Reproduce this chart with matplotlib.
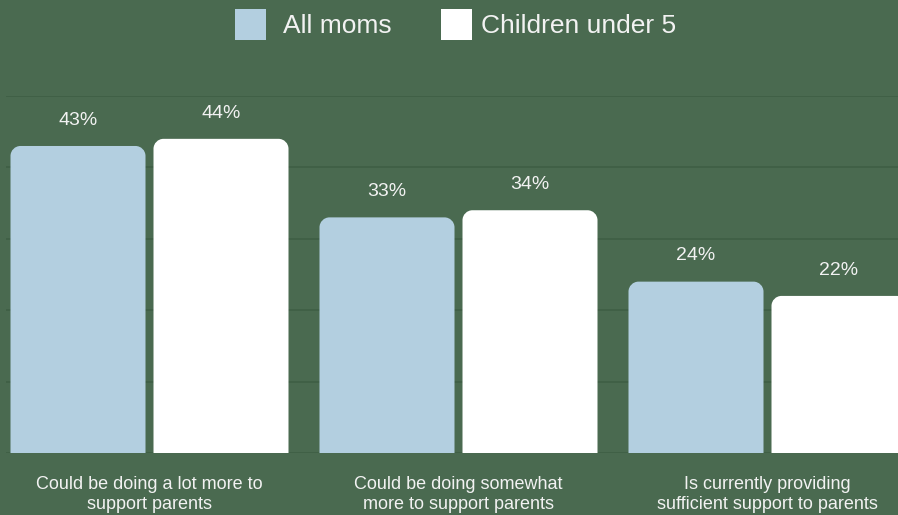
import matplotlib
matplotlib.use("Agg")
import matplotlib.pyplot as plt
import numpy as np
from matplotlib.path import Path
from matplotlib.patches import PathPatch, Rectangle

categories = ["Could be doing a lot more to\nsupport parents",
              "Could be doing somewhat\nmore to support parents",
              "Is currently providing\nsufficient support to parents"]
series_names = ["All moms", "Children under 5"]
all_moms = [43, 33, 24]
children_under5 = [44, 34, 22]
yticks = [0, 10, 20, 30, 40, 50]

BG = "#4a6a50"
GRID = "#405f46"
BLUE = "#b3cfe0"
WHITE = "#ffffff"
TXT = "#f2f2f2"
FONT = ["Liberation Sans", "DejaVu Sans"]
plt.rcParams["font.family"] = FONT

W, H = 898, 515
fig = plt.figure(figsize=(W / 100, H / 100), dpi=100, facecolor=BG)
left_px, right_px, top_px, bot_px = 6, 898, 96, 453
ax = fig.add_axes([left_px / W, 1 - bot_px / H, (right_px - left_px) / W, (bot_px - top_px) / H])
ax.set_facecolor(BG)

unit = 309.0
center0 = 149.5
ax.set_xlim((left_px - center0) / unit, (right_px - center0) / unit)
ax.set_ylim(0, 50)

bw = 135 / unit
off = 71.5 / unit
x = np.arange(len(categories))

def rounded_bar(ax, xc, h, w, color, r_px=10):
    rx = r_px / unit
    ry = r_px * 50 / (bot_px - top_px)
    k = 0.5523
    x0, x1 = xc - w / 2, xc + w / 2
    verts = [(x0, 0), (x0, h - ry),
             (x0, h - ry + k * ry), (x0 + rx - k * rx, h), (x0 + rx, h),
             (x1 - rx, h),
             (x1 - rx + k * rx, h), (x1, h - ry + k * ry), (x1, h - ry),
             (x1, 0), (x0, 0)]
    codes = [Path.MOVETO, Path.LINETO,
             Path.CURVE4, Path.CURVE4, Path.CURVE4,
             Path.LINETO,
             Path.CURVE4, Path.CURVE4, Path.CURVE4,
             Path.LINETO, Path.CLOSEPOLY]
    p = PathPatch(Path(verts, codes), facecolor=color, edgecolor="none", zorder=3)
    ax.add_patch(p)

for vals, sign, col in [(all_moms, -1, BLUE), (children_under5, 1, WHITE)]:
    bars = ax.bar(x + sign * off, vals, width=bw, color=col, alpha=0)
    for b, v in zip(bars, vals):
        xc = b.get_x() + b.get_width() / 2
        rounded_bar(ax, xc, v, bw, col)
        ax.text(xc, v + 3.6, f"{v}%", ha="center", va="center", color=TXT, fontsize=14)

ax.set_yticks(yticks)
ax.yaxis.grid(True, color=GRID, linewidth=1.3, zorder=0)
ax.set_axisbelow(True)
ax.tick_params(axis="y", left=False, labelleft=False)
ax.set_xticks(x)
ax.set_xticklabels(categories, color=TXT, fontsize=13, linespacing=1.2)
ax.tick_params(axis="x", bottom=False, pad=13)
for s in ax.spines.values():
    s.set_visible(False)

# legend
fig.add_artist(Rectangle((235 / W, 1 - 40 / H), 31 / W, 31 / H, transform=fig.transFigure,
                         facecolor=BLUE, edgecolor="none"))
fig.text(283 / W, 1 - 26 / H, series_names[0], color=TXT, fontsize=19, va="center", ha="left")
fig.add_artist(Rectangle((441 / W, 1 - 40 / H), 31 / W, 31 / H, transform=fig.transFigure,
                         facecolor=WHITE, edgecolor="none"))
fig.text(481 / W, 1 - 26 / H, series_names[1], color=TXT, fontsize=19, va="center", ha="left")

fig.savefig("out.png", dpi=100, facecolor=BG)
